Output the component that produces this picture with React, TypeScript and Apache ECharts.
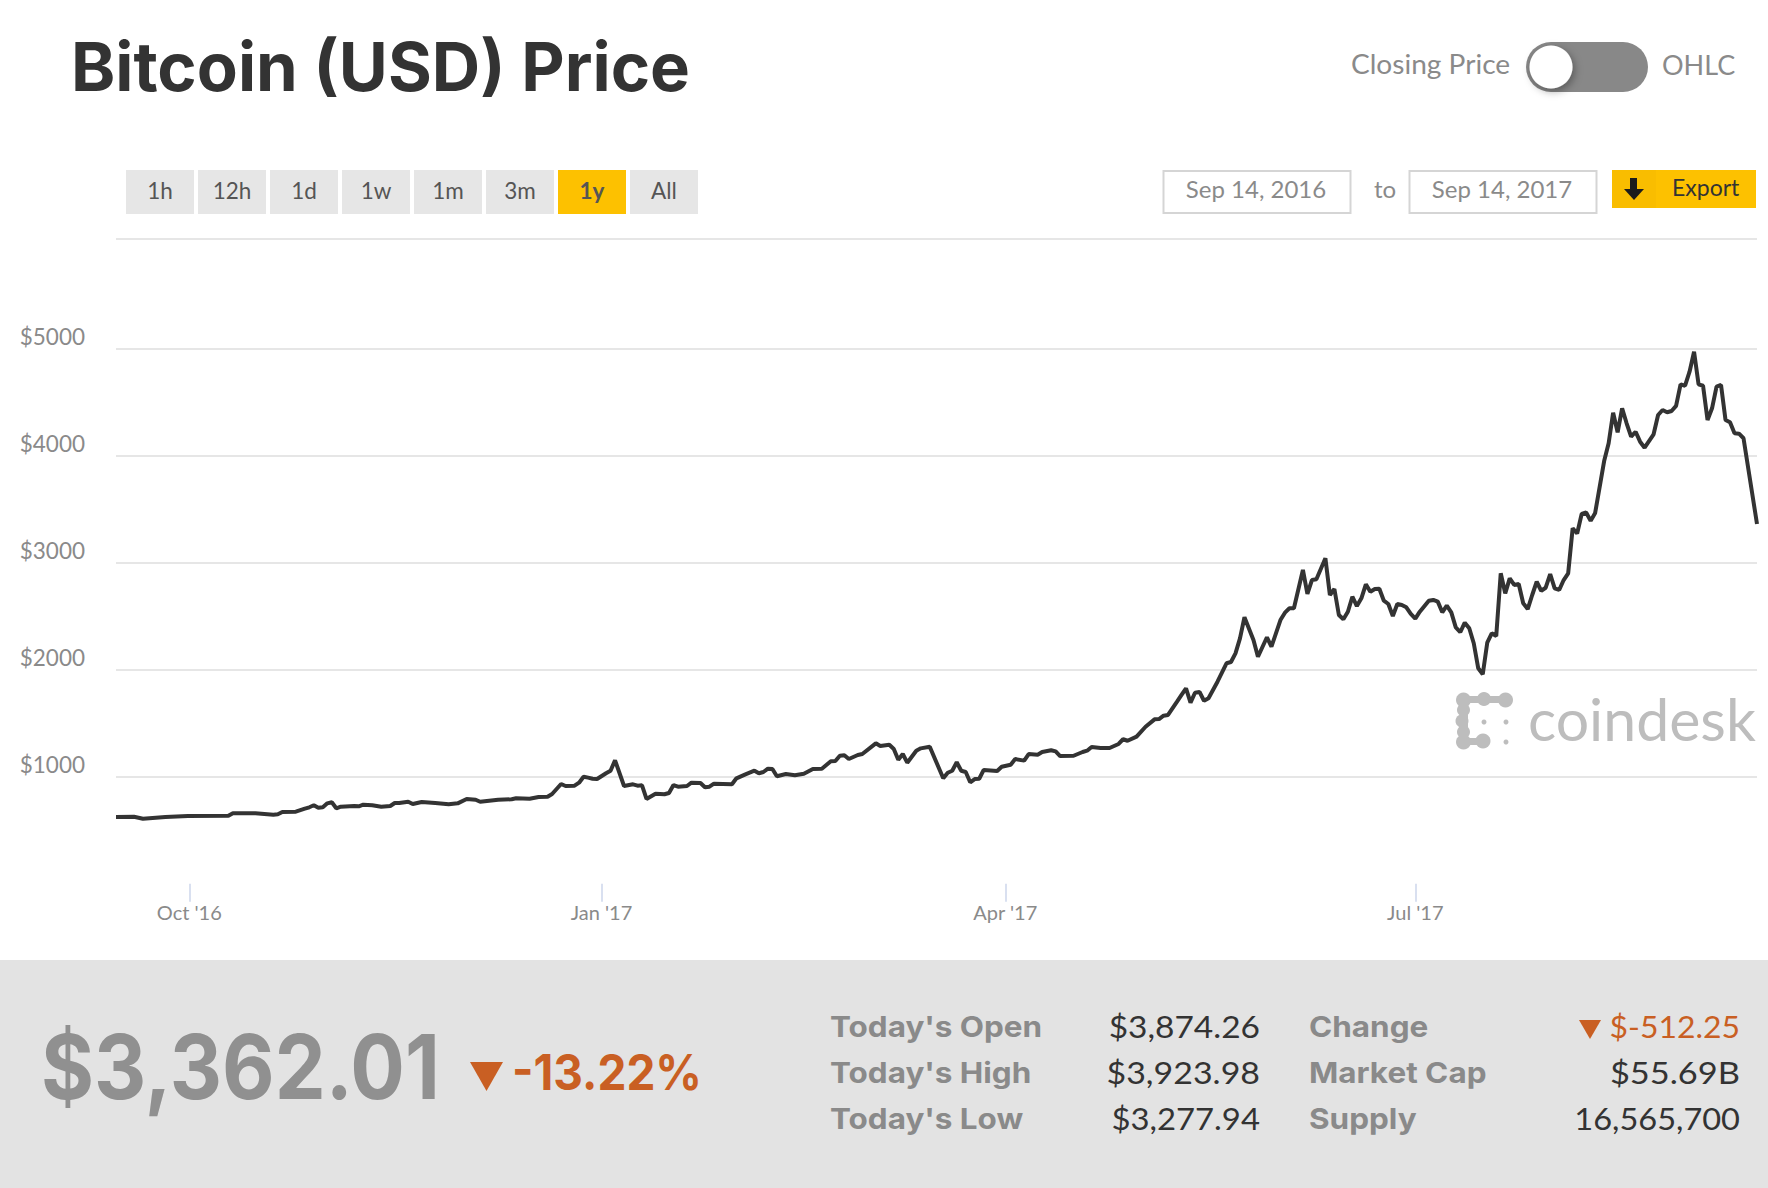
import React, { useEffect, useRef } from "react";
import * as echarts from "echarts";

// Days since 2016-09-15 and closing prices
const days = [0,4,6,11,16,25,26,31,35,36,37,40,42,43,44,45,46,47,48,49,50,53,54,55,57,59,61,62,63,65,66,68,71,74,76,78,80,81,85,88,89,92,94,96,97,98,99,100,102,103,104,105,106,107,109,110,111,113,115,116,117,118,120,122,123,124,125,127,128,130,131,132,133,137,138,140,142,143,144,145,146,147,149,151,153,155,157,159,160,161,162,163,165,166,169,170,172,173,174,175,176,178,179,181,184,185,186,187,188,189,190,191,192,193,196,197,199,200,202,203,205,206,208,209,210,213,215,216,217,219,221,223,224,225,227,229,231,232,233,234,236,237,238,239,240,241,242,243,245,247,248,249,250,251,253,254,256,257,259,260,261,262,264,265,266,267,269,270,271,272,273,274,275,276,277,278,279,280,281,282,283,284,285,286,287,288,289,290,292,293,294,295,296,297,298,299,300,301,302,303,304,305,306,307,308,309,310,311,312,313,314,315,316,317,318,319,320,321,322,323,324,325,326,327,328,329,331,332,333,334,335,336,337,338,339,340,342,343,344,345,346,347,348,349,350,351,352,353,354,355,356,357,358,359,360,361,362,365];
const prices = [623,626,607,623,633,635,658,658,645,649,670,673,701,714,733,710,714,751,761,705,720,726,723,738,733,720,726,754,754,766,745,764,754,742,751,792,785,766,785,789,798,794,810,813,838,885,932,913,916,944,1000,991,981,978,1032,1056,1153,913,929,916,920,792,841,836,848,922,907,913,944,941,901,907,935,929,985,1022,1056,1032,1044,1075,1072,1004,1025,1013,1028,1072,1075,1144,1147,1196,1200,1165,1203,1212,1312,1287,1299,1259,1159,1212,1131,1243,1265,1280,985,1037,1056,1135,1056,1044,948,978,981,1063,1053,1093,1112,1165,1150,1212,1206,1231,1247,1237,1193,1196,1231,1243,1278,1268,1268,1306,1350,1336,1374,1467,1536,1539,1570,1577,1701,1764,1826,1692,1785,1792,1710,1733,1888,2060,2072,2153,2293,2490,2278,2121,2303,2215,2464,2533,2574,2574,2932,2708,2838,2845,3041,2698,2754,2511,2471,2542,2682,2595,2667,2798,2729,2754,2757,2645,2614,2502,2614,2605,2583,2521,2477,2542,2645,2652,2636,2536,2598,2536,2396,2350,2439,2387,2247,2013,1957,2252,2340,2315,2901,2714,2854,2792,2801,2621,2567,2698,2822,2738,2766,2894,2761,2745,2838,2901,3322,3273,3455,3469,3391,3465,3950,4116,4402,4219,4443,4303,4178,4224,4131,4075,4200,4380,4427,4406,4418,4465,4667,4654,4785,4972,4667,4654,4334,4443,4645,4661,4334,4312,4209,4206,4163,3362];

const yTicks = [1000, 2000, 3000, 4000, 5000];
const xTickDays = [16.3, 108, 197.8, 289]; // Oct 1, Jan 1, Apr 1, Jul 1
const xTickLabels = ["Oct '16", "Jan '17", "Apr '17", "Jul '17"];
const rangeButtons = ["1h", "12h", "1d", "1w", "1m", "3m", "1y", "All"];
const statLabels = ["Today's Open", "Today's High", "Today's Low"];
const statValues = ["$3,874.26", "$3,923.98", "$3,277.94"];
const metaLabels = ["Change", "Market Cap", "Supply"];
const metaValues = ["$-512.25", "$55.69B", "16,565,700"];

const FONT = "Lato, 'Open Sans', sans-serif";
const HEAVY = "Inter, Lato, sans-serif";
const GREY = "#8a8a8a";
const DARK = "#333333";
const ORANGE = "#c95f23";
const YELLOW = "#fdc100";
const LOGO = "#bdbdbd";
const statScale = [1.08, 1.095, 1.06];
const metaScale = [1.03, 1.11, 1.05];

function T(text: string, x: number, y: number, size: number, fill: string, opts: any = {}) {
  return {
    type: "text",
    x,
    y,
    scaleX: opts.scaleX ?? 1,
    z: 5,
    style: {
      text,
      fill,
      fontFamily: opts.family ?? FONT,
      fontSize: size,
      fontWeight: opts.weight ?? "normal",
      textAlign: opts.align ?? "left",
      textVerticalAlign: "middle",
    },
  };
}

function R(x: number, y: number, w: number, h: number, fill: string, extra: any = {}) {
  return { type: "rect", shape: { x, y, width: w, height: h, r: extra.r ?? 0 }, z: extra.z ?? 1, style: { fill, stroke: extra.stroke, lineWidth: extra.lineWidth } };
}

function Tri(x1: number, x2: number, y1: number, y2: number, fill: string) {
  return { type: "polygon", z: 5, shape: { points: [[x1, y1], [x2, y1], [(x1 + x2) / 2, y2]] }, style: { fill } };
}

function buildGraphics() {
  const g: any[] = [];
  g.push(T("Bitcoin (USD) Price", 71, 66, 67, DARK, { weight: "bold", family: HEAVY, scaleX: 1.0 }));

  rangeButtons.forEach((b, i) => {
    const x = 126 + i * 72;
    const on = b === "1y";
    g.push(R(x, 170, 68, 44, on ? YELLOW : "#e6e6e6"));
    g.push(T(b, x + 34, 190, 22.5, "#555555", { align: "center", weight: on ? "bold" : "normal" }));
  });

  g.push(T("Closing Price", 1351, 64, 27, GREY, { scaleX: 1.04 }));
  g.push(R(1526, 42, 122, 50, "#888888", { r: 25 }));
  g.push({ type: "circle", z: 2, shape: { cx: 1551, cy: 67, r: 21.5 }, style: { fill: "#ffffff", shadowBlur: 8, shadowColor: "rgba(0,0,0,0.35)", shadowOffsetX: 2, shadowOffsetY: 3 } });
  g.push(T("OHLC", 1662, 64, 27, GREY));

  g.push(R(1163.5, 171, 187, 42, "#ffffff", { stroke: "#d5d5d5", lineWidth: 2 }));
  g.push(T("Sep 14, 2016", 1256, 188, 24, GREY, { align: "center" }));
  g.push(T("to", 1385, 188, 24, GREY, { align: "center" }));
  g.push(R(1409.5, 171, 187, 42, "#ffffff", { stroke: "#d5d5d5", lineWidth: 2 }));
  g.push(T("Sep 14, 2017", 1502, 188, 24, GREY, { align: "center" }));
  g.push(R(1612, 170, 144, 38, YELLOW));
  g.push(R(1612, 170, 44, 38, "#f9bd00"));
  g.push({ type: "rect", z: 5, shape: { x: 1630, y: 178, width: 7, height: 12 }, style: { fill: "#1c1c1c" } });
  g.push({ type: "polygon", z: 5, shape: { points: [[1624, 189], [1644, 189], [1634, 200]] }, style: { fill: "#1c1c1c" } });
  g.push(T("Export", 1672, 187, 23, DARK));

  g.push({ type: "line", z: 1, shape: { x1: 116, y1: 239, x2: 1757, y2: 239 }, style: { stroke: "#e6e6e6", lineWidth: 2 } });

  // coindesk watermark
  const logoCircles = [
    [1463.5, 700, 7.5], [1484, 699, 7], [1505.5, 700, 7.5],
    [1463.5, 710, 6.5], [1462, 721, 6.5], [1463.5, 732, 6.5], [1463.5, 742, 7.5], [1483, 741, 7.5],
  ];
  logoCircles.forEach(([cx, cy, r]) => g.push({ type: "circle", z: 1, shape: { cx, cy, r }, style: { fill: LOGO } }));
  g.push(R(1463.5, 696, 42, 7, LOGO));
  g.push(R(1460, 700, 8, 42, LOGO));
  g.push(R(1463.5, 738, 20, 7, LOGO));
  [[1484, 722, 2.5], [1506, 722, 2.5], [1506, 742, 2.5]].forEach(([cx, cy, r]) =>
    g.push({ type: "circle", z: 1, shape: { cx, cy, r }, style: { fill: LOGO } })
  );
  g.push(T("coindesk", 1528, 718, 59, LOGO));

  // bottom panel
  g.push(R(0, 960, 1768, 228, "#e3e3e3"));
  g.push(T("$3,362.01", 41, 1066, 90, "#909090", { weight: "bold", family: HEAVY, scaleX: 0.9 }));
  g.push(Tri(470, 503, 1062, 1091, ORANGE));
  g.push(T("-13.22%", 512, 1072, 50, ORANGE, { weight: "bold", family: HEAVY, scaleX: 0.92 }));

  statLabels.forEach((s, i) => {
    const y = 1026 + i * 46;
    g.push(T(s, 830, y, 29, GREY, { weight: "bold", family: HEAVY, scaleX: 1.085 }));
    g.push(T(statValues[i], 1260, y, 31, DARK, { align: "right", scaleX: statScale[i] }));
    g.push(T(metaLabels[i], 1309, y, 29, GREY, { weight: "bold", family: HEAVY, scaleX: 1.085 }));
    g.push(T(metaValues[i], 1740, y, 31, i === 0 ? ORANGE : DARK, { align: "right", scaleX: metaScale[i] }));
  });
  g.push(Tri(1579, 1601, 1020, 1039, ORANGE));
  return g;
}

export default function App() {
  const ref = useRef<HTMLDivElement>(null);
  useEffect(() => {
    document.body.style.margin = "0";
    const chart = echarts.init(ref.current!, undefined, { renderer: "svg" });
    chart.setOption({
      animation: false,
      backgroundColor: "#ffffff",
      grid: { left: 116, right: 11, top: 241.7, bottom: 304.3, containLabel: false },
      xAxis: {
        type: "value",
        min: 0,
        max: 365,
        axisLine: { show: false },
        splitLine: { show: false },
        axisTick: { show: true, customValues: xTickDays, length: 18, lineStyle: { color: "#ccd6eb", width: 1.5 } },
        axisLabel: {
          customValues: xTickDays,
          formatter: (v: number) => xTickLabels[xTickDays.indexOf(v)] ?? "",
          color: GREY,
          fontFamily: FONT,
          fontSize: 20,
          margin: 18,
          hideOverlap: false,
        },
      },
      yAxis: {
        type: "value",
        min: 0,
        max: 6000,
        interval: 1000,
        axisLine: { show: false },
        axisTick: { show: false },
        splitLine: { show: true, showMinLine: false, showMaxLine: false, lineStyle: { color: "#e6e6e6", width: 2 } },
        axisLabel: {
          customValues: yTicks,
          formatter: (v: number) => `$${v}`,
          color: GREY,
          fontFamily: FONT,
          fontSize: 22.5,
          margin: 31,
          verticalAlign: "bottom",
          lineHeight: 22,
          padding: [0, 0, 1, 0],
        },
      },
      series: [
        {
          type: "line",
          showSymbol: false,
          smooth: false,
          z: 10,
          lineStyle: { color: "#333333", width: 4 },
          data: days.map((d, i) => [d, prices[i]]),
        },
      ],
      graphic: { elements: buildGraphics() },
    });
    return () => chart.dispose();
  }, []);
  return <div ref={ref} style={{ position: "absolute", left: 0, top: 0, width: 1768, height: 1188 }} />;
}
